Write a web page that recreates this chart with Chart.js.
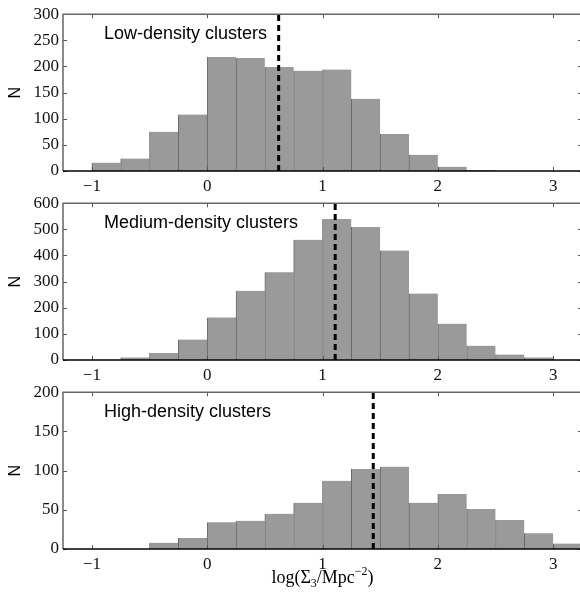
<!DOCTYPE html>
<html>
<head>
<meta charset="utf-8">
<script src="https://cdn.jsdelivr.net/npm/chart.js@4.4.0/dist/chart.umd.min.js"></script>
<style>
  html, body { margin: 0; padding: 0; background: #fff; overflow: hidden; width: 580px; height: 593px; }
  canvas { position: absolute; left: 0; }
</style>
</head>
<body>
<canvas id="low" width="582" height="205" style="top:0px"></canvas>
<canvas id="mid" width="582" height="205" style="top:189px"></canvas>
<canvas id="high" width="582" height="215" style="top:378px"></canvas>
<script>
// histogram bins (left edges, width 0.25) and counts
const binStarts = [-1, -0.75, -0.5, -0.25, 0, 0.25, 0.5, 0.75, 1, 1.25, 1.5, 1.75, 2, 2.25, 2.5, 2.75, 3];
const binWidth = 0.25;
const lowCounts = [16, 24, 75, 108, 218, 216, 199, 192, 194, 138, 71, 31, 8, 2, 0, 0, 0];
const midCounts = [0, 10, 27, 78, 163, 265, 336, 460, 540, 509, 419, 254, 139, 55, 21, 10, 0];
const highCounts = [0, 0, 8, 14, 34, 36, 45, 59, 87, 102, 105, 59, 70, 51, 37, 20, 7];
const medians = [0.62, 1.11, 1.44];
const panelTitles = ['Low-density clusters', 'Medium-density clusters', 'High-density clusters'];
const yMax = [300, 600, 200];
const yStep = [50, 100, 50];
const xTicks = [-1, 0, 1, 2, 3];
const xMin = -1.25, xMax = 3.25;

const serif = "'Liberation Serif', 'Times New Roman', serif";
const sans = "'Liberation Sans', Arial, sans-serif";

// frame with inward ticks, panel label, y title, optional x title
const frame = {
  id: 'frame',
  afterDatasetsDraw(chart, args, opts) {
    const { ctx, chartArea: a, scales: { x, y } } = chart;
    ctx.save();
    ctx.strokeStyle = '#555';
    ctx.lineWidth = 1;
    ctx.beginPath();
    x.ticks.forEach(t => {
      const px = Math.round(x.getPixelForValue(t.value)) + 0.5;
      ctx.moveTo(px, a.bottom); ctx.lineTo(px, a.bottom - 4);
      ctx.moveTo(px, a.top); ctx.lineTo(px, a.top + 4);
    });
    y.ticks.forEach(t => {
      const py = Math.round(y.getPixelForValue(t.value)) + 0.5;
      ctx.moveTo(a.left, py); ctx.lineTo(a.left + 4, py);
      ctx.moveTo(a.right, py); ctx.lineTo(a.right - 4, py);
    });
    ctx.stroke();

    ctx.lineWidth = 1.5;
    ctx.strokeStyle = '#666';
    ctx.beginPath();
    ctx.moveTo(a.left, a.bottom); ctx.lineTo(a.left, a.top);
    ctx.lineTo(a.right, a.top); ctx.lineTo(a.right, a.bottom);
    ctx.stroke();
    ctx.strokeStyle = '#000';
    ctx.beginPath();
    ctx.moveTo(a.left, a.bottom); ctx.lineTo(a.right, a.bottom);
    ctx.stroke();

    ctx.fillStyle = '#000';
    ctx.font = '18px ' + sans;
    ctx.textBaseline = 'middle';
    ctx.textAlign = 'left';
    ctx.fillText(opts.label, a.left + 41, a.top + 20);

    ctx.save();
    ctx.translate(16, (a.top + a.bottom) / 2);
    ctx.rotate(-Math.PI / 2);
    ctx.textAlign = 'center';
    ctx.font = '16px ' + sans;
    ctx.fillText('N', 0, 0);
    ctx.restore();

    if (opts.xTitle) {
      const parts = [
        ['log(Σ', 18, 0], ['3', 12, 4], ['/Mpc', 18, 0], ['−2', 12, -8], [')', 18, 0]
      ];
      ctx.textBaseline = 'alphabetic';
      let w = 0;
      parts.forEach(p => { ctx.font = p[1] + 'px ' + serif; w += ctx.measureText(p[0]).width; });
      let cx = (a.left + a.right) / 2 - w / 2;
      const base = a.bottom + 34;
      parts.forEach(p => {
        ctx.font = p[1] + 'px ' + serif;
        ctx.fillText(p[0], cx, base + p[2]);
        cx += ctx.measureText(p[0]).width;
      });
    }
    ctx.restore();
  }
};

function makePanel(id, counts, i, xAxisHeight) {
  new Chart(document.getElementById(id), {
    type: 'bar',
    data: {
      datasets: [
        {
          type: 'line',
          data: [{ x: medians[i], y: 0 }, { x: medians[i], y: yMax[i] }],
          borderColor: '#000',
          borderWidth: 3,
          borderDash: [6, 4],
          pointRadius: 0,
          order: 0
        },
        {
          data: binStarts.map((s, k) => ({ x: s + binWidth / 2, y: counts[k] })),
          backgroundColor: '#9a9a9a',
          borderColor: '#6a6a6a',
          borderWidth: { left: 1, right: 0, top: 0, bottom: 0 },
          borderSkipped: false,
          barPercentage: 1,
          categoryPercentage: 1,
          order: 1
        }
      ]
    },
    options: {
      responsive: false,
      animation: false,
      events: [],
      layout: { padding: { top: 14, left: 0, right: 0, bottom: 0 } },
      plugins: {
        legend: { display: false },
        tooltip: { enabled: false },
        frame: { label: panelTitles[i], xTitle: i === 2 }
      },
      scales: {
        x: {
          type: 'linear',
          min: xMin,
          max: xMax,
          offset: false,
          grid: { display: false, drawTicks: false, offset: false },
          border: { display: false },
          afterBuildTicks: s => { s.ticks = xTicks.map(v => ({ value: v })); },
          afterFit: s => { s.height = xAxisHeight; },
          ticks: {
            padding: 5,
            color: '#111',
            font: { family: serif, size: 17 },
            maxRotation: 0,
            autoSkip: false,
            callback: v => (v < 0 ? '−' + Math.abs(v) : String(v))
          }
        },
        y: {
          min: 0,
          max: yMax[i],
          grid: { display: false, drawTicks: false },
          border: { display: false },
          afterFit: s => { s.width = 63; },
          ticks: {
            stepSize: yStep[i],
            padding: 4,
            color: '#111',
            autoSkip: false,
            font: { family: serif, size: 17 }
          }
        }
      }
    },
    plugins: [frame]
  });
}

makePanel('low', lowCounts, 0, 34);
makePanel('mid', midCounts, 1, 34);
makePanel('high', highCounts, 2, 44);
</script>
</body>
</html>
